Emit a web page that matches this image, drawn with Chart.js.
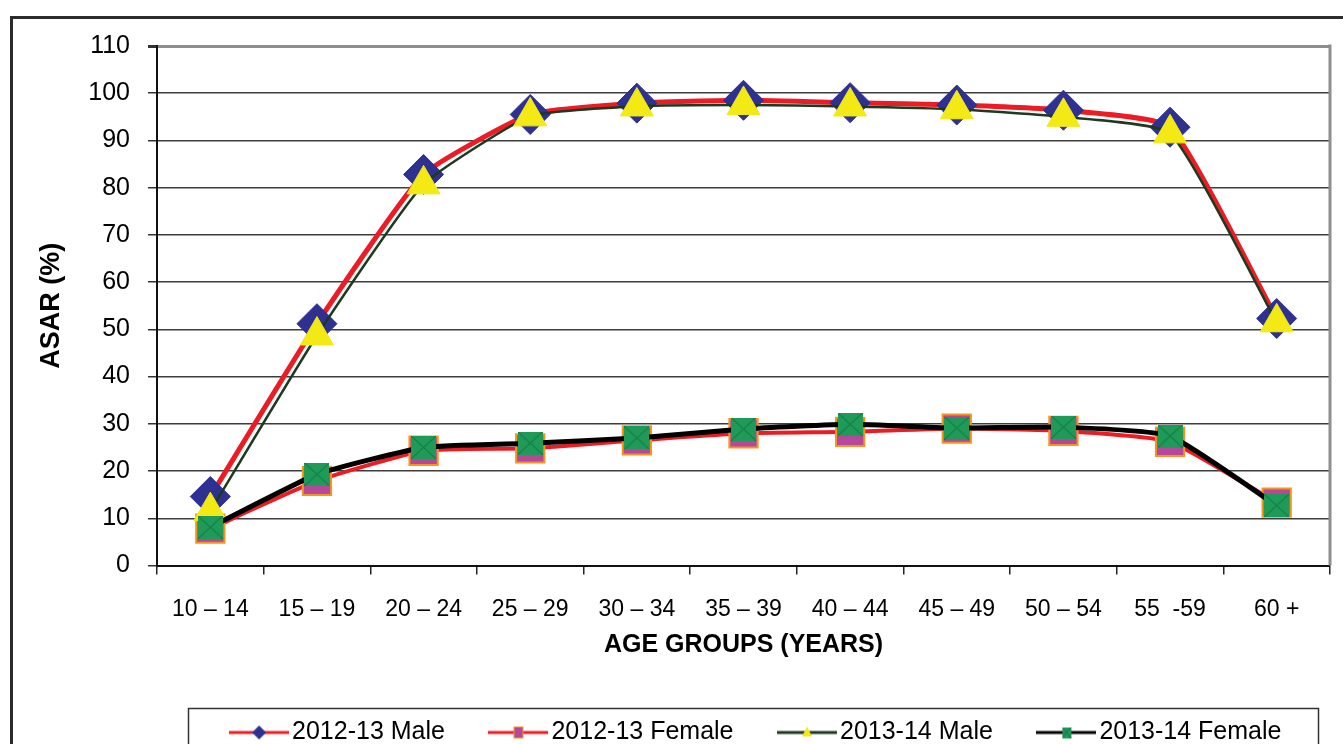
<!DOCTYPE html>
<html>
<head>
<meta charset="utf-8">
<title>ASAR by age group</title>
<script src="https://cdn.jsdelivr.net/npm/chart.js@4.4.1/dist/chart.umd.min.js"></script>
<style>
  html, body { margin: 0; padding: 0; background: #fff; overflow: hidden; }
  #wrap { position: relative; width: 1343px; height: 755px; }
</style>
</head>
<body>
<div id="wrap"><canvas id="asar-chart"></canvas></div>
<script>
// age groups on the x axis
var ageGroups = ["10 \u2013 14", "15 \u2013 19", "20 \u2013 24", "25 \u2013 29", "30 \u2013 34",
  "35 \u2013 39", "40 \u2013 44", "45 \u2013 49", "50 \u2013 54", "55  -59", "60 +"];

// ASAR (%) per series
var male1213   = [14.6, 51.2, 82.8, 95.5, 97.9, 98.5, 98.0, 97.5, 96.4, 92.8, 52.3];
var female1213 = [7.8, 17.9, 24.3, 24.8, 26.5, 28.0, 28.3, 29.0, 28.5, 26.2, 13.3];
var male1314   = [11.5, 48.7, 80.7, 95.1, 97.2, 97.5, 97.2, 96.6, 95.0, 91.5, 51.5];
var female1314 = [8.1, 19.3, 25.0, 25.9, 27.0, 28.9, 29.9, 29.1, 29.3, 27.4, 12.7];

var seriesNames = ["2012-13 Male", "2012-13 Female", "2013-14 Male", "2013-14 Female"];

var yMin = 0, yMax = 110, yStep = 10;

var FONT = "'Liberation Sans', Arial, sans-serif";

var RED = "#ed1c24";
var NAVY = "#2e3192";
var PINK = "#b5489b";
var ORANGE = "#f7941d";
var YELLOW = "#f3e914";
var DARKGREEN = "#1c3a1f";
var GREEN = "#1f9a58";

// green square with a cross, used for the 2013-14 female markers
function crossSquare(w, h) {
  var c = document.createElement("canvas");
  c.width = w; c.height = h;
  var g = c.getContext("2d");
  g.fillStyle = GREEN;
  g.fillRect(0, 0, w, h);
  g.strokeStyle = "#127040";
  g.lineWidth = 1;
  g.beginPath();
  g.moveTo(0, 0); g.lineTo(w, h);
  g.moveTo(w, 0); g.lineTo(0, h);
  g.stroke();
  return c;
}

// legend swatch: a short line with the marker in the middle
function legendIcon(lineColor, lineWidth, marker) {
  var c = document.createElement("canvas");
  c.width = 60; c.height = 24;
  var g = c.getContext("2d");
  g.strokeStyle = lineColor;
  g.lineWidth = lineWidth;
  g.beginPath();
  g.moveTo(0, 12); g.lineTo(60, 12);
  g.stroke();
  marker(g, 30, 12);
  return c;
}

var legendIcons = [
  legendIcon(RED, 3, function (g, x, y) {
    g.fillStyle = NAVY;
    g.beginPath();
    g.moveTo(x, y - 7); g.lineTo(x + 7, y); g.lineTo(x, y + 7); g.lineTo(x - 7, y);
    g.closePath(); g.fill();
  }),
  legendIcon(RED, 3, function (g, x, y) {
    g.fillStyle = ORANGE; g.fillRect(x - 5, y - 6, 10, 12);
    g.fillStyle = PINK; g.fillRect(x - 4, y - 5, 8, 10);
  }),
  legendIcon(DARKGREEN, 3, function (g, x, y) {
    g.fillStyle = YELLOW;
    g.beginPath();
    g.moveTo(x, y - 6); g.lineTo(x + 5, y + 4); g.lineTo(x - 5, y + 4);
    g.closePath(); g.fill();
  }),
  legendIcon("#000", 3, function (g, x, y) {
    g.drawImage(crossSquare(9, 11), x - 4.5, y - 5.5);
  })
];

var frames = {
  id: "frames",
  afterLayout: function (chart) {
    // legend items sit a little right of the canvas centre
    var lg = chart.legend;
    var shift = 760 - (lg.left + lg.right) / 2;
    lg.left += shift;
    lg.right += shift;
  },
  beforeDraw: function (chart) {
    var ctx = chart.ctx;
    ctx.save();
    ctx.fillStyle = "#fff";
    ctx.fillRect(0, 0, chart.width, chart.height);
    ctx.strokeStyle = "#2b2b2b";
    ctx.lineWidth = 3;
    ctx.strokeRect(11.5, 17.5, chart.width + 20, chart.height + 20);
    ctx.restore();
  },
  afterDraw: function (chart) {
    var ctx = chart.ctx, a = chart.chartArea, lg = chart.legend;
    ctx.save();
    // plot area right edge
    ctx.strokeStyle = "#8e8e8e";
    ctx.lineWidth = 3;
    ctx.beginPath();
    ctx.moveTo(a.right, a.top - 1.5);
    ctx.lineTo(a.right, a.bottom);
    ctx.stroke();
    // legend frame
    var rowMid = lg.top + lg.options.labels.padding + lg.options.labels.font.size / 2;
    ctx.strokeStyle = "#333";
    ctx.lineWidth = 1.5;
    ctx.strokeRect(188.5, rowMid - 24, 1130, 80);
    ctx.restore();
  }
};

var chart = new Chart(document.getElementById("asar-chart"), {
  type: "line",
  data: {
    labels: ageGroups,
    datasets: [
      {
        label: seriesNames[0],
        data: male1213,
        borderColor: RED,
        borderWidth: 5,
        pointStyle: "rectRot",
        pointRadius: 20,
        pointBackgroundColor: NAVY,
        pointBorderColor: NAVY,
        pointBorderWidth: 1,
        tension: 0.15,
        order: 4
      },
      {
        label: seriesNames[1],
        data: female1213,
        borderColor: RED,
        borderWidth: 4,
        pointStyle: "rect",
        pointRadius: 20,
        pointBackgroundColor: PINK,
        pointBorderColor: ORANGE,
        pointBorderWidth: 2,
        tension: 0.15,
        order: 3
      },
      {
        label: seriesNames[2],
        data: male1314,
        borderColor: DARKGREEN,
        borderWidth: 2.5,
        pointStyle: "triangle",
        pointRadius: 19,
        pointBackgroundColor: YELLOW,
        pointBorderColor: YELLOW,
        pointBorderWidth: 1,
        tension: 0.15,
        order: 2
      },
      {
        label: seriesNames[3],
        data: female1314,
        borderColor: "#000",
        borderWidth: 5,
        pointStyle: crossSquare(25, 23),
        pointRadius: 12,
        tension: 0.15,
        order: 1
      }
    ]
  },
  options: {
    responsive: true,
    maintainAspectRatio: false,
    animation: false,
    events: [],
    layout: { autoPadding: false, padding: { left: 0, right: 13, top: 46, bottom: 0 } },
    scales: {
      x: {
        offset: true,
        afterFit: function (scale) {
          scale.height = 101.5;
          scale.paddingLeft = 0;
          scale.paddingRight = 0;
        },
        grid: {
          offset: true,
          drawOnChartArea: false,
          drawTicks: true,
          tickLength: 9,
          color: "#222",
          lineWidth: 1.5
        },
        border: { color: "#111", width: 2 },
        ticks: {
          color: "#000",
          padding: 21,
          maxRotation: 0,
          autoSkip: false,
          font: { family: FONT, size: 23 }
        },
        title: {
          display: true,
          text: "AGE GROUPS (YEARS)",
          color: "#000",
          padding: { top: 0, bottom: 6.5 },
          font: { family: FONT, size: 25, weight: "bold" }
        }
      },
      y: {
        min: yMin,
        max: yMax,
        afterFit: function (scale) { scale.width = 157; },
        grid: {
          tickLength: 9,
          color: function (c) { return c.tick && c.tick.value === yMax ? "#8e8e8e" : "#3d3d3d"; },
          lineWidth: function (c) { return c.tick && c.tick.value === yMax ? 3 : 1.5; },
          tickColor: "#333"
        },
        border: { color: "#111", width: 2 },
        ticks: {
          stepSize: yStep,
          color: "#000",
          padding: 18,
          font: { family: FONT, size: 25 }
        },
        title: {
          display: true,
          text: "ASAR (%)",
          color: "#000",
          padding: { top: 35, bottom: 0 },
          font: { family: FONT, size: 27, weight: "bold" }
        }
      }
    },
    plugins: {
      tooltip: { enabled: false },
      legend: {
        position: "bottom",
        labels: {
          usePointStyle: true,
          pointStyleWidth: 41,
          padding: 53,
          color: "#000",
          font: { family: FONT, size: 25 },
          sort: function (a, b) { return a.datasetIndex - b.datasetIndex; },
          generateLabels: function (ch) {
            var items = Chart.defaults.plugins.legend.labels.generateLabels(ch);
            items.forEach(function (it) {
              it.pointStyle = legendIcons[it.datasetIndex];
              it.lineWidth = 0;
            });
            return items;
          }
        }
      }
    }
  },
  plugins: [frames]
});
</script>
</body>
</html>
